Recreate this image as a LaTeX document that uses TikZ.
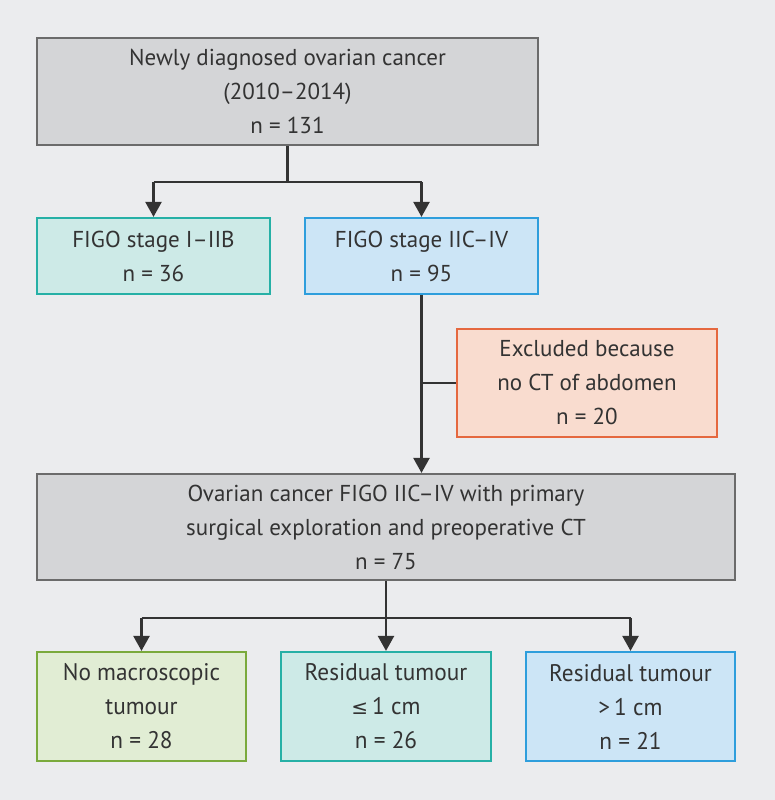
\documentclass[tikz,border=0pt]{standalone}
\usepackage{fontspec}
\setmainfont{PT Sans}
\usetikzlibrary{arrows.meta}
\definecolor{bg}{HTML}{EBECEE}
\definecolor{txt}{HTML}{333333}
\definecolor{greyfill}{HTML}{D4D5D7}
\definecolor{greyline}{HTML}{6B6B6B}
\definecolor{tealfill}{HTML}{CDEAE7}
\definecolor{tealline}{HTML}{26B0A6}
\definecolor{bluefill}{HTML}{CCE5F6}
\definecolor{blueline}{HTML}{2E9EDC}
\definecolor{orfill}{HTML}{F9DCCF}
\definecolor{orline}{HTML}{E5683F}
\definecolor{grfill}{HTML}{E1EDD4}
\definecolor{grline}{HTML}{7AAA3C}
\definecolor{conn}{HTML}{333333}
\newfontfamily\condfont[FakeStretch=0.97]{PT Sans}
\newfontfamily\symfont{DejaVu Sans}
\tikzset{
  boxbase/.style={draw, line width=2.2pt, inner sep=0pt, align=center, text=txt,
    font=\fontsize{23}{34}\selectfont},
  greybox/.style={boxbase, draw=greyline, fill=greyfill},
  tealbox/.style={boxbase, draw=tealline, fill=tealfill},
  bluebox/.style={boxbase, draw=blueline, fill=bluefill},
  orbox/.style={boxbase, draw=orline, fill=orfill},
  grbox/.style={boxbase, draw=grline, fill=grfill},
  condtext/.style={font=\condfont\fontsize{24}{34}\selectfont},
  link/.style={draw=conn, line width=2.4pt},
  arr/.style={link, -{Triangle[width=16pt,length=15pt]}}
}
\begin{document}
\begin{tikzpicture}[x=1pt,y=-1pt]
\useasboundingbox (0,0) rectangle (775,800);
\fill[bg] (0,0) rectangle (775,800);

\node[greybox, minimum width=501pt, minimum height=107pt] (top) at (287.5,91.5)
  {Newly diagnosed ovarian cancer\\(2010–2014)\\n = 131};
\node[tealbox, minimum width=233pt, minimum height=76pt] (f1) at (153.5,256)
  {FIGO stage I–IIB\\n = 36};
\node[bluebox, minimum width=233pt, minimum height=76pt] (f2) at (421.5,256)
  {FIGO stage IIC–IV\\n = 95};
\node[orbox, minimum width=260pt, minimum height=108pt] (ex) at (587,383)
  {Excluded because\\no CT of abdomen\\n = 20};
\node[greybox, minimum width=698pt, minimum height=106pt] (mid) at (386,527)
  {Ovarian cancer FIGO IIC–IV with primary\\surgical exploration and preoperative CT\\n = 75};
\node[grbox, condtext, minimum width=209pt, minimum height=109pt] (b1) at (141.5,706.5)
  {No macroscopic\\tumour\\n = 28};
\node[tealbox, condtext, minimum width=210pt, minimum height=109pt] (b2) at (386,706.5)
  {Residual tumour\\{\symfont\fontsize{20}{34}\selectfont ≤}\,1 cm\\n = 26};
\node[bluebox, condtext, minimum width=209pt, minimum height=109pt] (b3) at (630.5,706.5)
  {Residual tumour\\>\,1 cm\\n = 21};

\coordinate (j1) at (287.5,182);
\coordinate (j2) at (386,618);
\coordinate (jx) at (421.5,383);

\draw[link] (top.south) -- (j1);
\draw[link] (j1 -| f1) -- (j1 -| f2);
\draw[arr] (j1 -| f1) -- (f1.north);
\draw[arr] (j1 -| f2) -- (f2.north);

\draw[arr] (f2.south) -- (f2.south |- mid.north);
\draw[link] (jx) -- (ex.west);

\draw[link] (mid.south) -- (j2);
\draw[link] (j2 -| b1) -- (j2 -| b3);
\draw[arr] (j2 -| b1) -- (b1.north);
\draw[arr] (j2) -- (b2.north);
\draw[arr] (j2 -| b3) -- (b3.north);
\end{tikzpicture}
\end{document}
